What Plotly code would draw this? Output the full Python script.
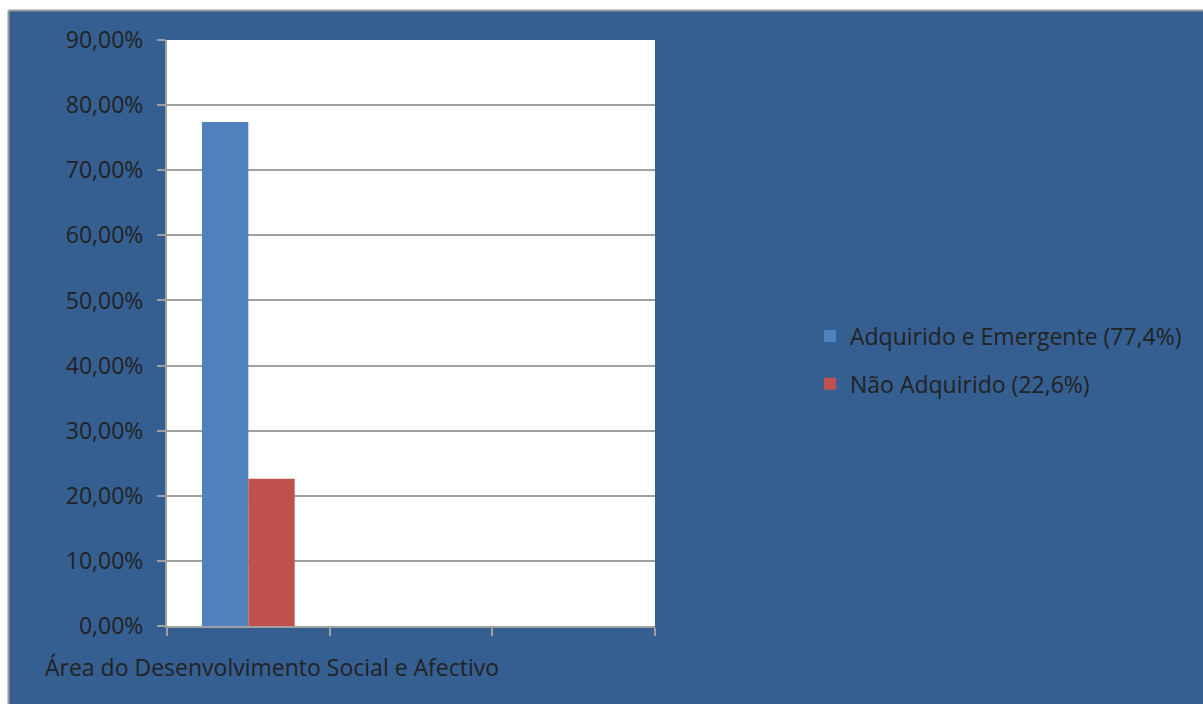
import plotly.graph_objects as go

# Chart data
category = "Área do Desenvolvimento Social e Afectivo"
series_names = ["Adquirido e Emergente (77,4%)", "Não Adquirido (22,6%)"]
series_values = [77.4, 22.6]
series_colors = ["#4F81BD", "#C0504D"]
y_ticks = [0, 10, 20, 30, 40, 50, 60, 70, 80, 90]
y_tick_labels = [f"{v:.2f}%".replace(".", ",") for v in y_ticks]

W, H = 1203, 704
L, R, T, B = 167, 655, 40, 626  # plot area in pixels
pw, ph = R - L, B - T

def px_x(p):
    return (p - L) / pw

def px_y(p):
    return (B - p) / ph

FONT = "Open Sans"
FS = 23
TXT = "#222222"
GRID = "#A0A0A0"
BG = "#355F91"
FRAME = "#9A9A9A"

fig = go.Figure()
for name, val, col in zip(series_names, series_values, series_colors):
    fig.add_trace(go.Bar(
        x=[0], y=[val], name=name, marker_color=col, marker_line_width=0,
        legendgroup=name, hoverinfo="skip",
    ))

fig.update_layout(
    width=W, height=H,
    margin=dict(l=L, r=W - R, t=T, b=H - B, pad=0),
    paper_bgcolor=BG,
    plot_bgcolor="white",
    barmode="group",
    bargap=0.43,
    bargroupgap=0,
    font=dict(family=FONT, size=FS, color=TXT),
    showlegend=True,
    legend=dict(
        x=px_x(810), xanchor="left",
        y=px_y(360), yanchor="middle",
        bgcolor="rgba(0,0,0,0)",
        font=dict(family=FONT, size=FS, color=TXT),
        traceorder="grouped",
        tracegroupgap=15,
        itemwidth=30,
    ),
    xaxis=dict(
        range=[-0.5, 2.5],
        tickvals=[-0.5, 0.5, 1.5, 2.5],
        ticktext=["", "", "", ""],
        ticks="outside", ticklen=8, tickwidth=2, tickcolor=GRID,
        showgrid=False, zeroline=False,
        showline=True, linecolor=GRID, linewidth=2,
        fixedrange=True,
    ),
    yaxis=dict(
        range=[0, 90],
        tickvals=y_ticks,
        ticktext=y_tick_labels,
        ticks="outside", ticklen=8, tickwidth=2, tickcolor=GRID,
        ticklabelstandoff=9,
        showgrid=True, gridcolor=GRID, gridwidth=2,
        zeroline=False,
        showline=True, linecolor=GRID, linewidth=2,
        tickfont=dict(family=FONT, size=FS, color=TXT),
        fixedrange=True,
    ),
    shapes=[
        # white strips outside the chart frame (left and top)
        dict(type="rect", xref="paper", yref="paper", layer="below",
             x0=px_x(-5), x1=px_x(8.5), y0=px_y(H + 5), y1=px_y(-5),
             fillcolor="white", line=dict(width=0)),
        dict(type="rect", xref="paper", yref="paper", layer="below",
             x0=px_x(-5), x1=px_x(W + 5), y0=px_y(10.5), y1=px_y(-5),
             fillcolor="white", line=dict(width=0)),
        # grey frame edges
        dict(type="line", xref="paper", yref="paper", layer="below",
             x0=px_x(8.5), x1=px_x(8.5), y0=px_y(H + 5), y1=px_y(10.5),
             line=dict(color=FRAME, width=2)),
        dict(type="line", xref="paper", yref="paper", layer="below",
             x0=px_x(8.5), x1=px_x(W + 5), y0=px_y(10.5), y1=px_y(10.5),
             line=dict(color=FRAME, width=2)),
    ],
    annotations=[
        dict(text=category, xref="paper", yref="paper",
             x=px_x(43), y=px_y(667), xanchor="left", yanchor="middle",
             showarrow=False, font=dict(family=FONT, size=FS, color=TXT)),
    ],
)

fig.write_html("out.html")
